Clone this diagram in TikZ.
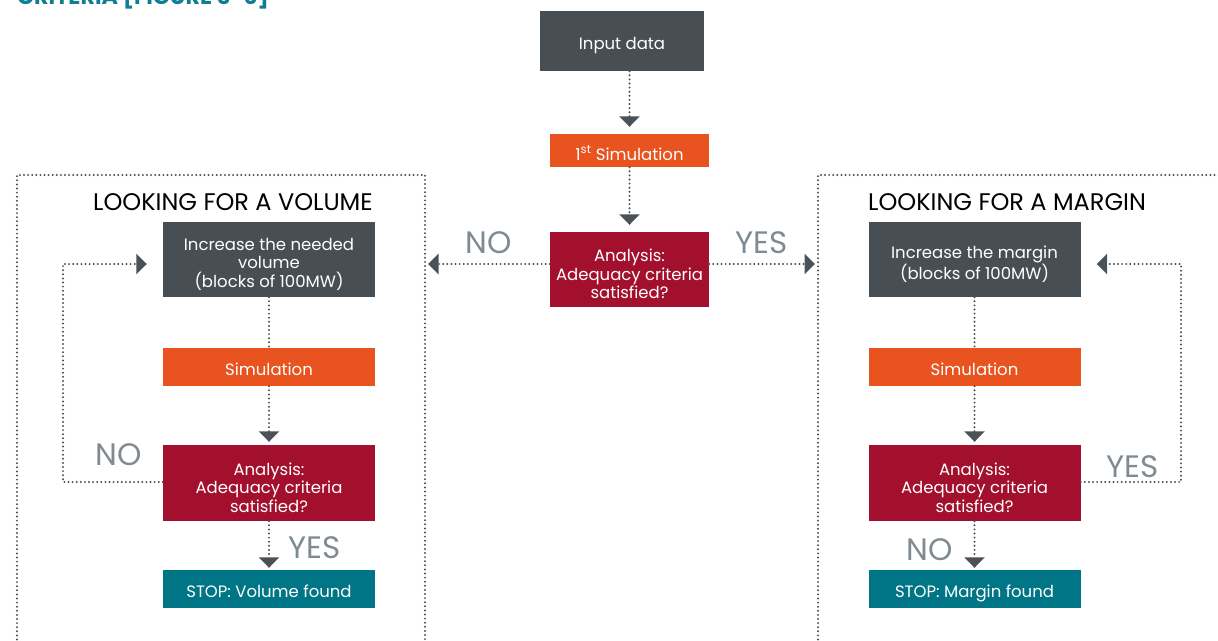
\documentclass[tikz,border=0pt]{standalone}
\usepackage{fontspec}
\setmainfont{Poppins}
\usetikzlibrary{arrows.meta}
\definecolor{boxgray}{HTML}{474F54}
\definecolor{boxorange}{HTML}{E8531F}
\definecolor{boxred}{HTML}{A3102E}
\definecolor{boxteal}{HTML}{007585}
\definecolor{linegray}{HTML}{4A5257}
\definecolor{labgray}{HTML}{7F8A91}
\definecolor{titleteal}{HTML}{0F7E92}
\tikzset{
  box/.style={draw=none, minimum height=#1, inner sep=0pt},
  boxtext/.style={text=white, inner sep=0pt, align=center, yshift=-4.5pt,
    font=\fontsize{16.5}{18.5}\selectfont},
  boxtextnd/.style={boxtext, yshift=2pt},
  conn/.style={draw=linegray, line width=2.2pt, dash pattern=on 0pt off 4.1pt, line cap=round,
    -{Triangle[width=20pt,length=10.5pt,line cap=butt,fill=linegray]}},
  frame/.style={draw=linegray, line width=2.2pt, dash pattern=on 0pt off 4.1pt, line cap=round},
  yn/.style={text=labgray, font=\fontsize{31}{31}\selectfont, inner sep=0pt},
  head/.style={text=black, font=\fontsize{24}{26}\selectfont, inner sep=0pt, anchor=base west}
}
\begin{document}
\begin{tikzpicture}[x=1pt,y=-1pt]
\useasboundingbox (0,0) rectangle (1218,640);
% cut-off title
\node[anchor=base west, inner sep=0pt, text=titleteal, font=\fontsize{22.3}{22}\bfseries\selectfont] (title) at (17,4) {CRITERIA [FIGURE 3-6]};
% frames
\draw[frame] (17,660) |- (425,175) -- (425,660);
\draw[frame] (818,660) |- (1240,175);
\coordinate (fL) at (425,264);
\coordinate (fR) at (818,264);
% central column
\node[box=60pt, fill=boxgray, minimum width=164pt, label={[boxtext]center:Input data}] (input) at (622,41) {};
\node[box=33pt, fill=boxorange, minimum width=159pt, label={[boxtextnd]center:1\textsuperscript{st} Simulation}] (sim1) at (629.5,150.5) {};
\node[box=75pt, fill=boxred, minimum width=159pt, label={[boxtext]center:Analysis:\\Adequacy criteria\\satisfied?}] (ana0) at (629.5,269.5) {};
\draw[conn, shorten >=7pt] (sim1.north |- input.south) -- (sim1.north);
\draw[conn, shorten >=7pt] (sim1.south) -- (ana0.north);
\draw[conn, shorten >=3pt] (ana0.west |- fL) -- (fL);
\draw[conn, shorten >=3pt] (ana0.east |- fR) -- (fR);
\node[yn, anchor=base] (no0) at (489,253) {NO};
\node[yn, anchor=base] (yes0) at (761.5,253) {YES};
% left column
\node[head] (hv) at (93,210) {LOOKING FOR A VOLUME};
\node[box=75pt, fill=boxgray, minimum width=212pt, label={[boxtext]center:Increase the needed\\volume\\(blocks of 100MW)}] (incV) at (269,259.5) {};
\node[box=38pt, fill=boxorange, minimum width=212pt, label={[boxtextnd]center:Simulation}] (simV) at (269,367) {};
\node[box=76pt, fill=boxred, minimum width=212pt, label={[boxtext]center:Analysis:\\Adequacy criteria\\satisfied?}] (anaV) at (269,483) {};
\node[box=38pt, fill=boxteal, minimum width=212pt, label={[boxtextnd]center:STOP: Volume found}] (stopV) at (269,589) {};
\draw[frame] (incV) -- (simV);
\draw[conn, shorten >=3pt] (simV) -- (anaV);
\draw[conn, shorten >=2pt] (anaV) -- (stopV);
\coordinate (lpV) at (63,482);
\draw[conn, shorten >=16pt] (anaV.west |- lpV) -- (lpV) |- (incV.west |- 0,264);
\node[yn, anchor=base] (noV) at (119,465) {NO};
\node[yn, anchor=base] (yesV) at (314.5,558) {YES};
% right column
\node[head] (hm) at (868,210) {LOOKING FOR A MARGIN};
\node[box=75pt, fill=boxgray, minimum width=212pt, label={[boxtext]center:Increase the margin\\(blocks of 100MW)}] (incM) at (974.5,259.5) {};
\node[box=38pt, fill=boxorange, minimum width=212pt, label={[boxtextnd]center:Simulation}] (simM) at (974.5,367) {};
\node[box=76pt, fill=boxred, minimum width=212pt, label={[boxtext]center:Analysis:\\Adequacy criteria\\satisfied?}] (anaM) at (974.5,483) {};
\node[box=38pt, fill=boxteal, minimum width=212pt, label={[boxtext]center:STOP: Margin found}] (stopM) at (974.5,589) {};
\draw[frame] (incM) -- (simM);
\draw[conn, shorten >=3pt] (simM) -- (anaM);
\draw[conn, shorten >=2pt] (anaM) -- (stopM);
\coordinate (lpM) at (1181,482);
\draw[conn, shorten >=16pt] (anaM.east |- lpM) -- (lpM) |- (incM.east |- 0,264);
\node[yn, anchor=base] (yesM) at (1132.5,477) {YES};
\node[yn, anchor=base] (noM) at (929.5,560) {NO};
\end{tikzpicture}
\end{document}
